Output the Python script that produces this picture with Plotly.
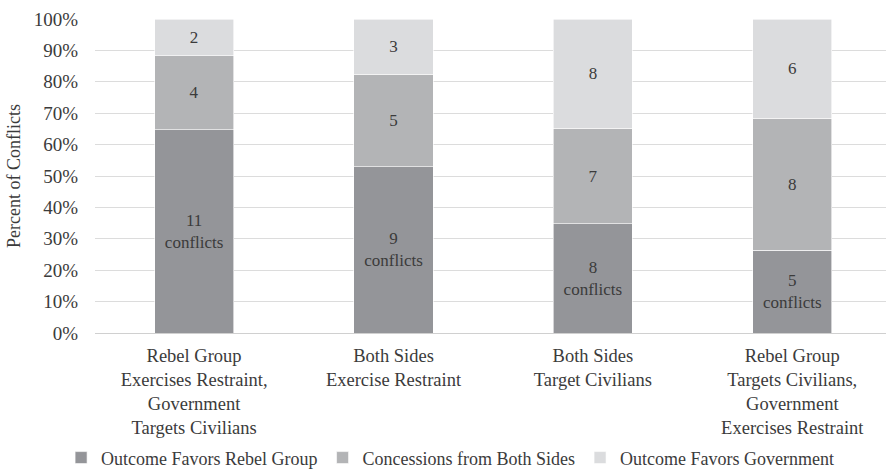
import plotly.graph_objects as go

categories = [
    "Rebel Group<br>Exercises Restraint,<br>Government<br>Targets Civilians",
    "Both Sides<br>Exercise Restraint",
    "Both Sides<br>Target Civilians",
    "Rebel Group<br>Targets Civilians,<br>Government<br>Exercises Restraint",
]
series_names = ["Outcome Favors Rebel Group", "Concessions from Both Sides", "Outcome Favors Government"]
rebel = [11, 9, 8, 5]
concessions = [4, 5, 7, 8]
government = [2, 3, 8, 6]
colors = ["#949599", "#b3b4b6", "#dbdcde"]
ytick_vals = [0, 10, 20, 30, 40, 50, 60, 70, 80, 90, 100]
ytick_text = [f"{v}%" for v in ytick_vals]

FONT = "Liberation Serif"
TXT = "#3b3b3b"

fig = go.Figure()
for i, (name, vals) in enumerate(zip(series_names, [rebel, concessions, government])):
    if i == 0:
        texts = [f"{v}<br>conflicts" for v in vals]
    else:
        texts = [str(v) for v in vals]
    fig.add_trace(go.Bar(
        x=categories, y=vals, name=name,
        marker=dict(color=colors[i], line=dict(width=0.6, color="#ffffff")),
        text=texts, textposition="inside", insidetextanchor="middle",
        textangle=0, textfont=dict(family=FONT, size=17, color=TXT),
        hoverinfo="skip",
    ))

fig.update_layout(
    barmode="stack", barnorm="percent", bargap=0.603,
    width=886, height=474,
    margin=dict(l=95, r=0, t=19, b=141),
    paper_bgcolor="white", plot_bgcolor="white",
    font=dict(family=FONT, size=18, color=TXT),
    showlegend=True,
    legend=dict(
        orientation="h", xref="container", yref="container",
        x=0.508, xanchor="center", y=0.034, yanchor="middle",
        font=dict(family=FONT, size=18, color=TXT),
        itemwidth=30, traceorder="normal", itemclick=False,
    ),
    uniformtext=dict(mode=False),
)
fig.update_xaxes(
    range=[-0.497, 3.47], showgrid=False, showline=False, ticks="",
    tickfont=dict(family=FONT, size=18.5, color=TXT), ticklabelstandoff=9,
)
fig.update_yaxes(
    range=[0, 100], tickvals=ytick_vals, ticktext=ytick_text,
    showgrid=True, gridcolor="#dcdcdc", gridwidth=1.3,
    zeroline=True, zerolinecolor="#d0d0d0", zerolinewidth=1.3,
    showline=False, ticks="", ticklabelstandoff=16,
    tickfont=dict(family=FONT, size=19, color=TXT),
    title=dict(text="Percent of Conflicts", font=dict(family=FONT, size=18, color=TXT), standoff=8),
)

fig.write_html("out.html")
